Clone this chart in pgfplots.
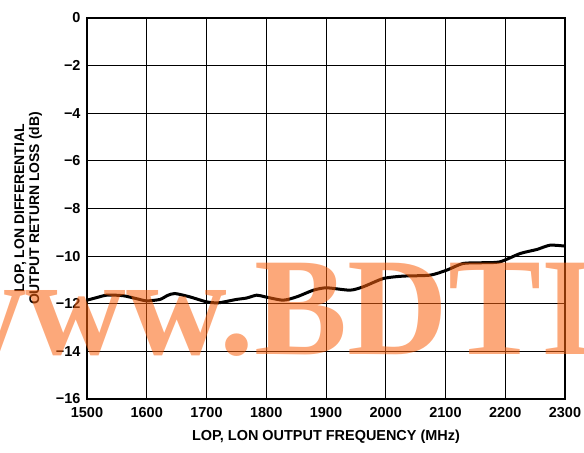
\documentclass[border=0pt]{standalone}
\usepackage{fontspec}
\setmainfont{Liberation Sans}
\newfontfamily\wmfont{Liberation Serif}
\usepackage{pgfplots}
\pgfplotsset{compat=1.18}

\definecolor{wmorange}{RGB}{250,97,13}

\begin{document}
\begin{tikzpicture}
\path[use as bounding box] (0,0) rectangle (584bp,453bp);
\begin{axis}[
  at={(87bp,54bp)}, anchor=south west,
  scale only axis, width=478bp, height=381bp,
  xmin=1500, xmax=2300, ymin=-16, ymax=0,
  xtick={1500,1600,...,2300},
  ytick={-16,-14,...,0},
  yticklabels={−16,−14,−12,−10,−8,−6,−4,−2,0},
  grid=major, grid style={black, line width=0.9bp},
  axis line style={line width=1.6bp},
  major tick length=0pt,
  /pgf/number format/assume math mode=true,
  /pgf/number format/1000 sep={},
  tick label style={font=\fontsize{14.5}{17}\selectfont\bfseries},
  xticklabel style={yshift=-5bp},
  yticklabel style={xshift=-3bp},
  xlabel={LOP, LON OUTPUT FREQUENCY (MHz)},
  xlabel style={font=\fontsize{14.5}{17}\selectfont\bfseries,
    at={(axis description cs:0.5,-0.1)}, anchor=center},
  ylabel={LOP, LON DIFFERENTIAL\\OUTPUT RETURN LOSS (dB)},
  ylabel style={font=\fontsize{14}{15}\selectfont\bfseries, align=center,
    at={(axis description cs:-0.123,0.5)}, anchor=center},
]
\addplot[black, line width=3bp, smooth, tension=0.4] coordinates {
  (1500,-11.85) (1515,-11.75) (1533,-11.64) (1560,-11.66) (1585,-11.80)
  (1600,-11.88) (1622,-11.82) (1635,-11.65) (1647,-11.57) (1672,-11.71)
  (1700,-11.92) (1720,-11.96) (1750,-11.82) (1767,-11.76) (1784,-11.64)
  (1798,-11.71) (1828,-11.85) (1851,-11.71) (1879,-11.43) (1901,-11.33)
  (1940,-11.43) (1962,-11.29) (1996,-10.94) (2029,-10.84) (2074,-10.80)
  (2102,-10.59) (2129,-10.31) (2158,-10.28) (2191,-10.24) (2225,-9.89)
  (2253,-9.72) (2275,-9.54) (2300,-9.58)
};
\end{axis}
\node[anchor=base west, inner sep=0, text=wmorange, text opacity=0.55,
  font=\wmfont\bfseries\fontsize{140}{140}\selectfont] at (-75bp,98bp) {www.BDTI};
\end{tikzpicture}
\end{document}
